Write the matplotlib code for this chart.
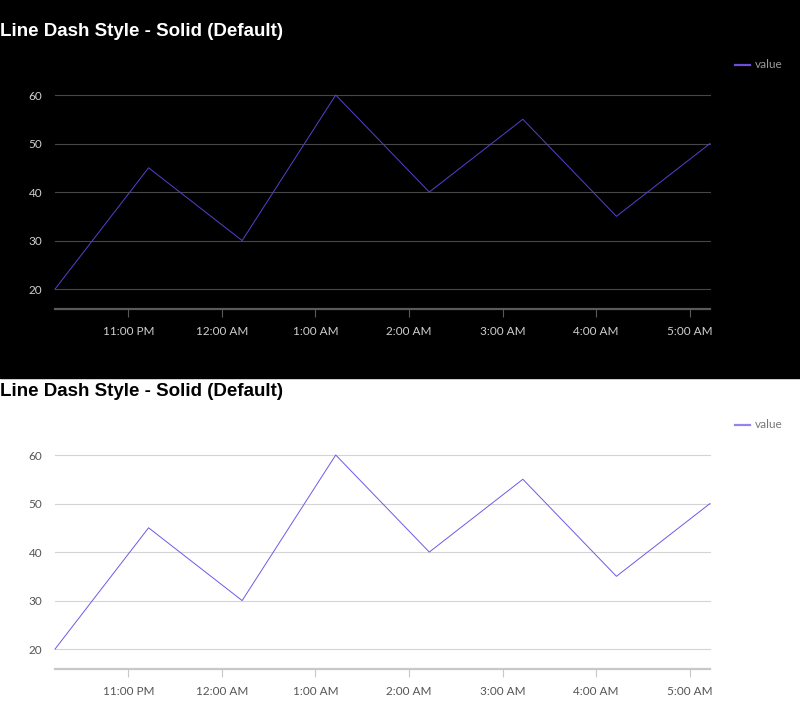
import matplotlib
matplotlib.use('Agg')
import matplotlib.pyplot as plt
import matplotlib.dates as mdates
import pandas as pd

# data
times = ['2024-01-01 22:13', '2024-01-01 23:13', '2024-01-02 00:13', '2024-01-02 01:13',
         '2024-01-02 02:13', '2024-01-02 03:13', '2024-01-02 04:13', '2024-01-02 05:13']
values = [20, 45, 30, 60, 40, 55, 35, 50]
y_ticks = [20, 30, 40, 50, 60]
title = 'Line Dash Style - Solid (Default)'
series_name = 'value'

W, H = 800, 719
fig = plt.figure(figsize=(W / 100, H / 100), dpi=100)
fig.patch.set_facecolor('white')

x = pd.to_datetime(times)


def px_box(left, top, right, bottom):
    # pixel box -> figure fraction [l, b, w, h]
    return [left / W, 1 - bottom / H, (right - left) / W, (bottom - top) / H]


def draw_panel(offset, dark):
    if dark:
        grid_c, axis_c, text_c, title_c, line_c, leg_c, leg_t = (
            '#474747', '#5a5a5a', '#cfcfcf', 'white', '#5a3fd0', '#6b4fd8', '#9a9a9a')
        # black panel behind the first chart
        fig.patches.append(plt.Rectangle((0, 1 - 378 / H), 1, 378 / H,
                                         transform=fig.transFigure, color='black', zorder=-10))
    else:
        grid_c, axis_c, text_c, title_c, line_c, leg_c, leg_t = (
            '#d4d4d4', '#c8c8c8', '#555555', 'black', '#7357e6', '#9a82ee', '#777777')

    ax = fig.add_axes(px_box(55, 95 + offset, 710, 309 + offset))
    ax.set_facecolor('none')
    ax.plot(x, values, color=line_c, linewidth=0.7, clip_on=False, zorder=3)

    ax.set_xlim(x[0], x[-1])
    ax.set_ylim(15.9, 60)
    ax.set_yticks(y_ticks)
    ax.grid(axis='y', color=grid_c, linewidth=0.8)
    ax.set_axisbelow(True)
    for gl in ax.get_ygridlines():
        gl.set_clip_on(False)

    for side in ['top', 'right', 'left']:
        ax.spines[side].set_visible(False)
    ax.spines['bottom'].set_color(axis_c)
    ax.spines['bottom'].set_linewidth(1.6)

    ax.xaxis.set_major_locator(mdates.HourLocator())
    ax.xaxis.set_major_formatter(mdates.DateFormatter('%-I:%M %p'))
    ax.tick_params(axis='x', length=6, width=0.8, color=axis_c, labelcolor=text_c,
                   labelsize=8.5, pad=6)
    ax.tick_params(axis='y', length=0, labelcolor=text_c, labelsize=8.5, pad=9)
    for lbl in ax.get_xticklabels() + ax.get_yticklabels():
        lbl.set_fontfamily('Lato')

    fig.text(0, 1 - (36.5 + offset) / H, title, fontsize=13.5, fontweight='bold',
             color=title_c, family='Liberation Sans', va='baseline', ha='left')

    # legend
    ly = 1 - (65 + offset) / H
    fig.lines.append(plt.Line2D([735 / W, 750 / W], [ly, ly], color=leg_c,
                                linewidth=1.6, transform=fig.transFigure))
    fig.text(755 / W, ly, series_name, fontsize=8.5, color=leg_t,
             family='Lato', va='center', ha='left')


draw_panel(0, True)
draw_panel(360, False)

fig.savefig('out.png', dpi=100, facecolor=fig.get_facecolor())
